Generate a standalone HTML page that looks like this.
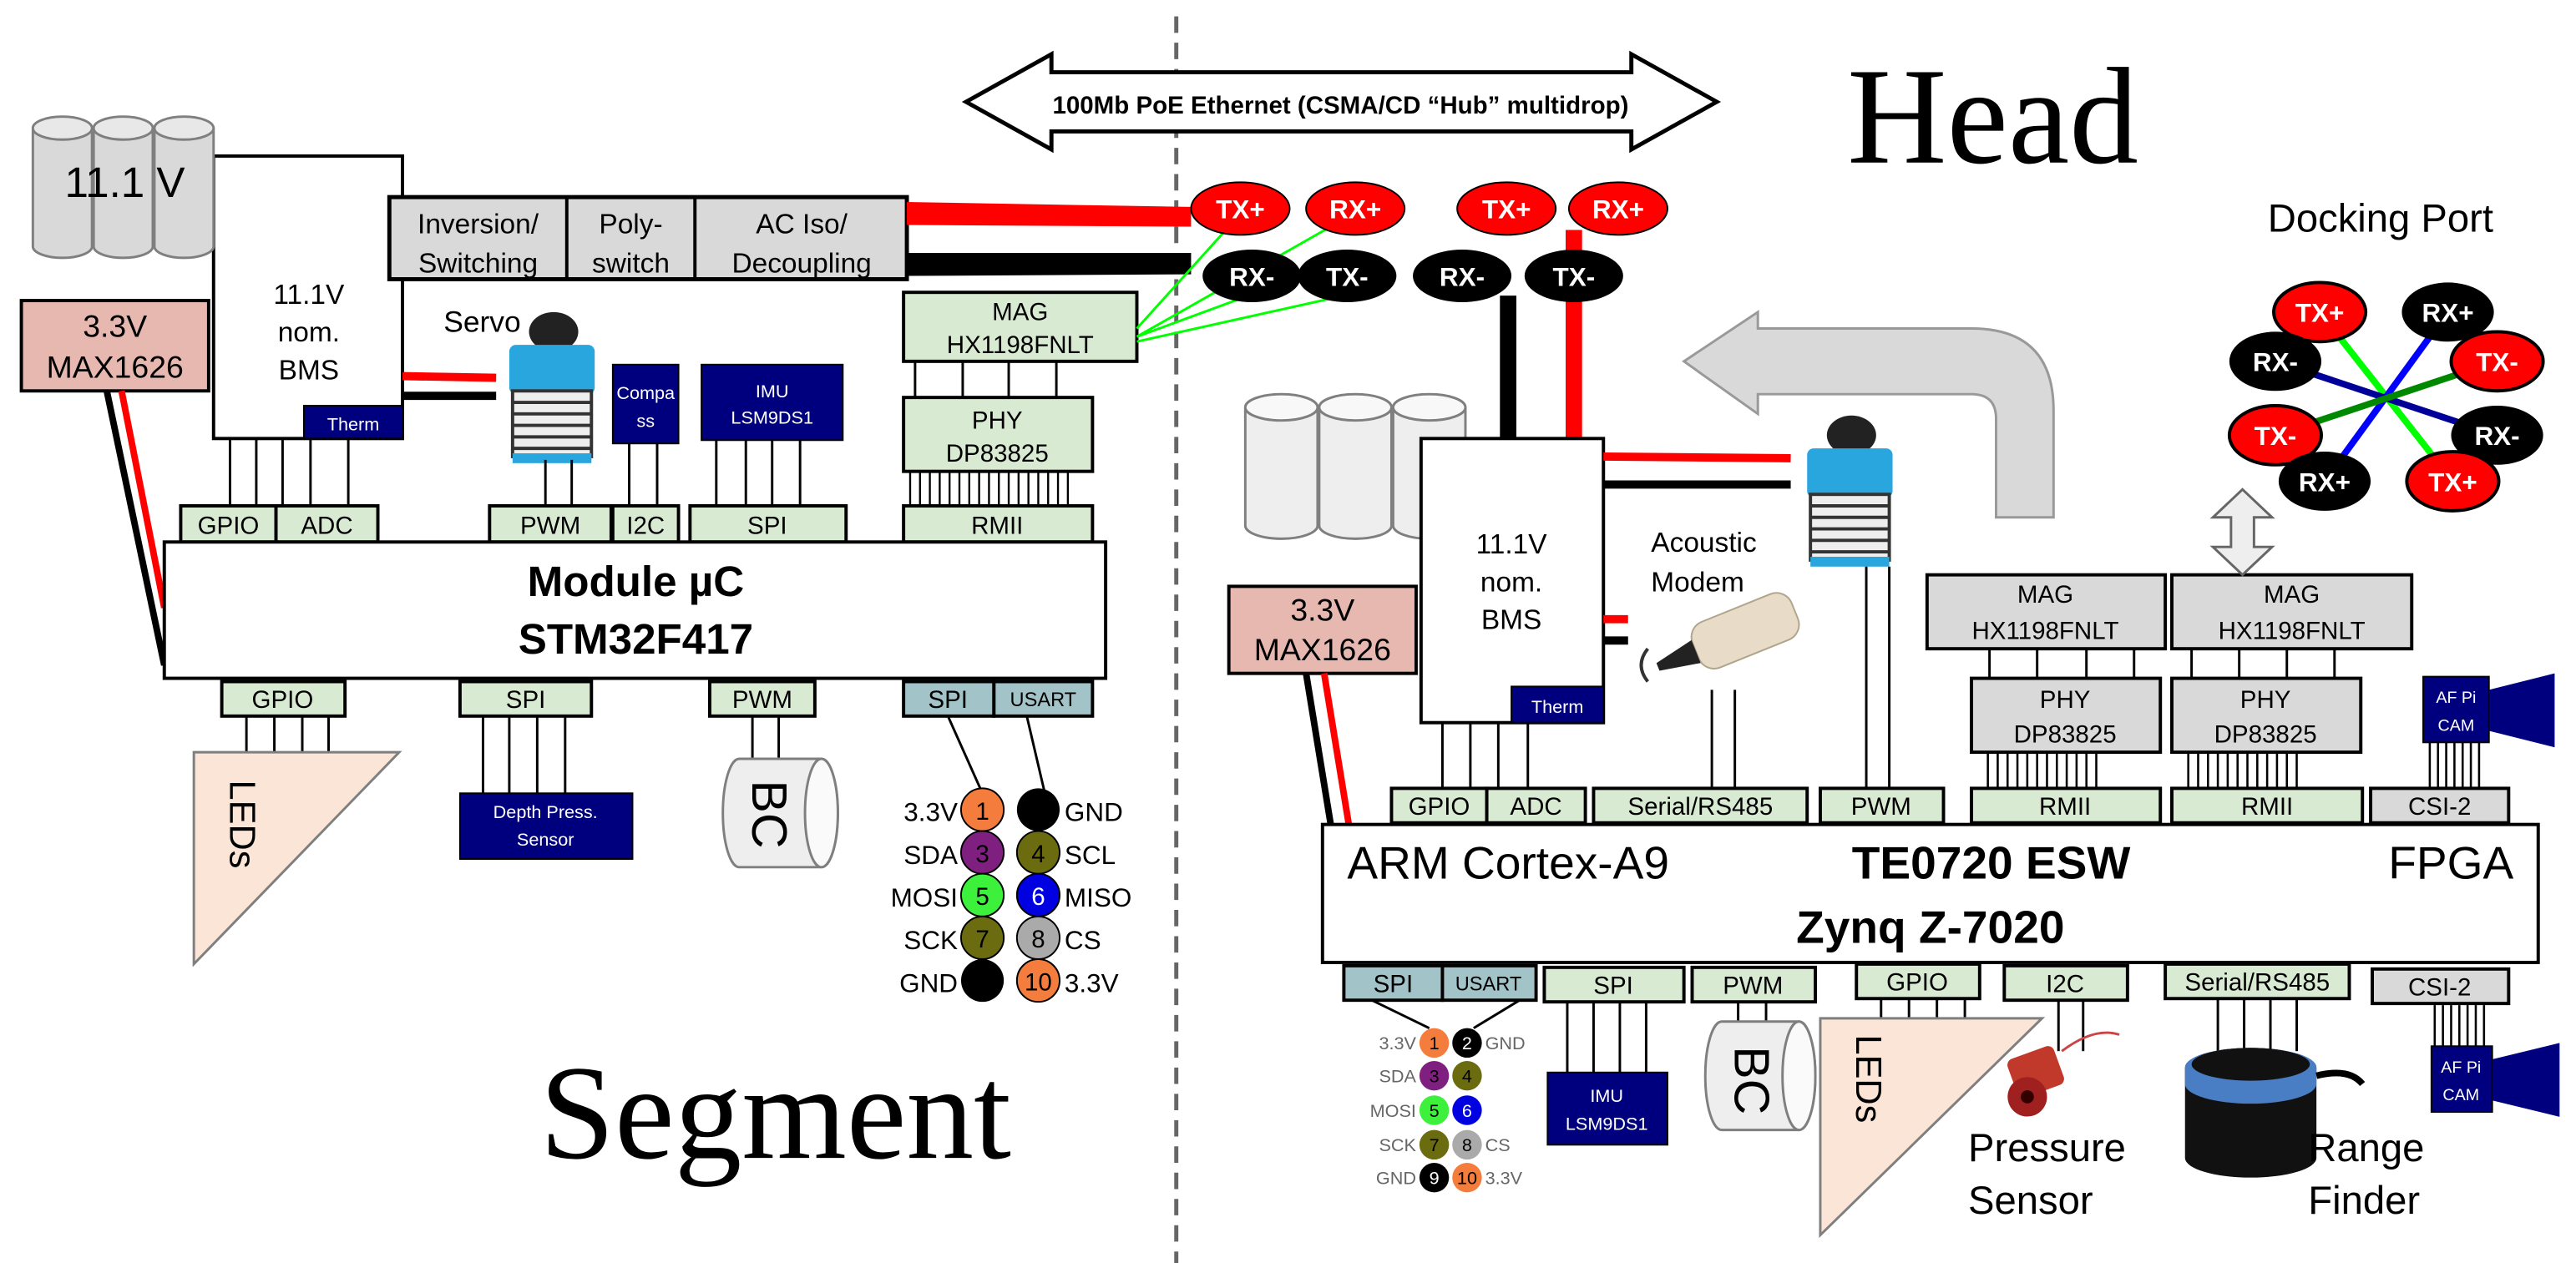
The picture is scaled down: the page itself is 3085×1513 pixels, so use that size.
<!DOCTYPE html>
<html><head><meta charset="utf-8"><style>
html,body{margin:0;padding:0;background:#fff}
svg{display:block}
text{font-family:"Liberation Sans",sans-serif}
</style></head><body>
<svg width="3085" height="1513" viewBox="0 0 1568 769" xmlns="http://www.w3.org/2000/svg">
<defs>
<g id="servo"><ellipse cx="35" cy="12" rx="15" ry="12" fill="#222"/><rect x="8" y="20" width="52" height="30" rx="4" fill="#2aa6df"/><g fill="#eee" stroke="#333" stroke-width="2"><rect x="10" y="48" width="48" height="40"/><line x1="10" y1="55" x2="58" y2="55"/><line x1="10" y1="62" x2="58" y2="62"/><line x1="10" y1="69" x2="58" y2="69"/><line x1="10" y1="76" x2="58" y2="76"/><line x1="10" y1="83" x2="58" y2="83"/></g><rect x="10" y="86" width="48" height="6" fill="#2aa6df"/></g>
</defs>
<rect width="1568" height="769" fill="#fff"/>
<line x1="716" y1="10" x2="716" y2="769" stroke="#666" stroke-width="2.5" stroke-dasharray="10,6"/>
<polygon points="588,62 640,33 640,44 993,44 993,33 1045,62 993,91 993,80 640,80 640,91" fill="#fff" stroke="#000" stroke-width="2.5"/>
<text x="816" y="69" font-size="15" font-weight="bold" text-anchor="middle">100Mb PoE Ethernet (CSMA/CD “Hub” multidrop)</text>
<text x="1213" y="99" font-size="84" text-anchor="middle" style="font-family:'Liberation Serif',serif">Head</text>
<text x="472" y="705" font-size="82" text-anchor="middle" style="font-family:'Liberation Serif',serif">Segment</text>

<!-- LEFT SIDE -->
<rect x="130" y="95" width="115" height="172" fill="#fff" stroke="#000" stroke-width="2"/>
<g><path d="M20,78 v72 a18,7 0 0 0 36,0 v-72" fill="#d9d9d9" stroke="#7f7f7f" stroke-width="1.5"/><ellipse cx="38" cy="78" rx="18" ry="7" fill="#e8e8e8" stroke="#7f7f7f" stroke-width="1.5"/>
<path d="M57,78 v72 a18,7 0 0 0 36,0 v-72" fill="#d9d9d9" stroke="#7f7f7f" stroke-width="1.5"/><ellipse cx="75" cy="78" rx="18" ry="7" fill="#e8e8e8" stroke="#7f7f7f" stroke-width="1.5"/>
<path d="M94,78 v72 a18,7 0 0 0 36,0 v-72" fill="#d9d9d9" stroke="#7f7f7f" stroke-width="1.5"/><ellipse cx="112" cy="78" rx="18" ry="7" fill="#e8e8e8" stroke="#7f7f7f" stroke-width="1.5"/></g>
<text x="76" y="120" font-size="26" text-anchor="middle">11.1 V</text>
<text x="188" y="185" font-size="17" text-anchor="middle">11.1V</text>
<text x="188" y="208" font-size="17" text-anchor="middle">nom.</text>
<text x="188" y="231" font-size="17" text-anchor="middle">BMS</text>
<rect x="185" y="247" width="60" height="20" fill="#00007f" stroke="#000"/>
<text x="215" y="262" font-size="11" fill="#fff" text-anchor="middle">Therm</text>
<rect x="13" y="183" width="114" height="55" fill="#e6b8af" stroke="#000" stroke-width="2"/>
<text x="70" y="205" font-size="19" text-anchor="middle">3.3V</text>
<text x="70" y="230" font-size="19" text-anchor="middle">MAX1626</text>
<line x1="65" y1="238" x2="100" y2="405" stroke="#000" stroke-width="4"/>
<line x1="74" y1="238" x2="100" y2="370" stroke="#f00" stroke-width="4"/>
<rect x="237" y="120" width="315" height="50" fill="#d9d9d9" stroke="#000" stroke-width="2.5"/>
<line x1="345" y1="120" x2="345" y2="170" stroke="#000" stroke-width="2"/>
<line x1="423" y1="120" x2="423" y2="170" stroke="#000" stroke-width="2"/>
<g font-size="17" text-anchor="middle"><text x="291" y="142">Inversion/</text><text x="291" y="166">Switching</text>
<text x="384" y="142">Poly-</text><text x="384" y="166">switch</text>
<text x="488" y="142">AC Iso/</text><text x="488" y="166">Decoupling</text></g>
<polygon points="552,123 725,126 725,138 552,137" fill="#f00"/>
<polygon points="552,154 725,154 725,167 552,168" fill="#000"/>
<text x="270" y="202" font-size="18">Servo</text>
<line x1="245" y1="229" x2="302" y2="230" stroke="#f00" stroke-width="5"/>
<line x1="245" y1="241" x2="302" y2="241" stroke="#000" stroke-width="5"/>
<use href="#servo" x="302" y="190"/>
<rect x="373" y="222" width="40" height="48" fill="#00007f" stroke="#000"/>
<text x="393" y="243" font-size="11" fill="#fff" text-anchor="middle">Compa</text>
<text x="393" y="260" font-size="11" fill="#fff" text-anchor="middle">ss</text>
<rect x="427" y="222" width="86" height="46" fill="#00007f" stroke="#000"/>
<text x="470" y="242" font-size="11" fill="#fff" text-anchor="middle">IMU</text>
<text x="470" y="258" font-size="11" fill="#fff" text-anchor="middle">LSM9DS1</text>
<g stroke="#000" stroke-width="1.5">
<line x1="140" y1="267" x2="140" y2="308"/><line x1="156" y1="267" x2="156" y2="308"/><line x1="172" y1="267" x2="172" y2="308"/><line x1="189" y1="267" x2="189" y2="308"/><line x1="212" y1="267" x2="212" y2="308"/>
<line x1="332" y1="280" x2="332" y2="308"/><line x1="348" y1="280" x2="348" y2="308"/>
<line x1="383" y1="270" x2="383" y2="308"/><line x1="400" y1="270" x2="400" y2="308"/>
<line x1="436" y1="268" x2="436" y2="308"/><line x1="454" y1="268" x2="454" y2="308"/><line x1="470" y1="268" x2="470" y2="308"/><line x1="487" y1="268" x2="487" y2="308"/>
<line x1="557" y1="220" x2="557" y2="242"/><line x1="586" y1="220" x2="586" y2="242"/><line x1="614" y1="220" x2="614" y2="242"/><line x1="643" y1="220" x2="643" y2="242"/>
</g>
<g stroke="#000" stroke-width="1.2"><path d="M554,287v21M560,287v21M566,287v21M572,287v21M578,287v21M584,287v21M590,287v21M596,287v21M602,287v21M608,287v21M614,287v21M620,287v21M626,287v21M632,287v21M638,287v21M644,287v21M650,287v21"/></g>
<rect x="550" y="178" width="142" height="42" fill="#d9ead3" stroke="#000" stroke-width="2"/>
<text x="621" y="195" font-size="15" text-anchor="middle">MAG</text><text x="621" y="215" font-size="15" text-anchor="middle">HX1198FNLT</text>
<rect x="550" y="242" width="115" height="45" fill="#d9ead3" stroke="#000" stroke-width="2"/>
<text x="607" y="261" font-size="15" text-anchor="middle">PHY</text><text x="607" y="281" font-size="15" text-anchor="middle">DP83825</text>
<g fill="#d9ead3" stroke="#000" stroke-width="2" >
<rect x="110" y="308" width="58" height="22"/><rect x="168" y="308" width="62" height="22"/>
<rect x="298" y="308" width="74" height="22"/><rect x="373" y="308" width="40" height="22"/>
<rect x="420" y="308" width="95" height="22"/><rect x="550" y="308" width="115" height="22"/>
</g>
<g font-size="15" text-anchor="middle"><text x="139" y="325">GPIO</text><text x="199" y="325">ADC</text><text x="335" y="325">PWM</text><text x="393" y="325">I2C</text><text x="467" y="325">SPI</text><text x="607" y="325">RMII</text></g>
<rect x="100" y="330" width="573" height="83" fill="#fff" stroke="#000" stroke-width="2"/>
<text x="387" y="363" font-size="26" font-weight="bold" text-anchor="middle">Module µC</text>
<text x="387" y="398" font-size="26" font-weight="bold" text-anchor="middle">STM32F417</text>
<g fill="#d9ead3" stroke="#000" stroke-width="2">
<rect x="135" y="415" width="75" height="21"/><rect x="280" y="415" width="80" height="21"/><rect x="432" y="415" width="64" height="21"/></g>
<rect x="550" y="415" width="55" height="21" fill="#a2c4c9" stroke="#000" stroke-width="2"/>
<rect x="605" y="415" width="60" height="21" fill="#a2c4c9" stroke="#000" stroke-width="2"/>
<g font-size="15" text-anchor="middle"><text x="172" y="431">GPIO</text><text x="320" y="431">SPI</text><text x="464" y="431">PWM</text><text x="577" y="431">SPI</text><text x="635" y="430" font-size="12">USART</text></g>
<g stroke="#000" stroke-width="1.5">
<line x1="150" y1="436" x2="150" y2="458"/><line x1="167" y1="436" x2="167" y2="458"/><line x1="184" y1="436" x2="184" y2="458"/><line x1="200" y1="436" x2="200" y2="458"/>
<line x1="294" y1="436" x2="294" y2="483"/><line x1="310" y1="436" x2="310" y2="483"/><line x1="327" y1="436" x2="327" y2="483"/><line x1="344" y1="436" x2="344" y2="483"/>
<line x1="458" y1="436" x2="458" y2="465"/><line x1="474" y1="436" x2="474" y2="465"/>
<line x1="577" y1="436" x2="598" y2="483"/><line x1="625" y1="436" x2="636" y2="483"/></g>
<polygon points="118,458 243,458 118,587" fill="#fbe5d6" stroke="#7f7f7f" stroke-width="1.5"/>
<text transform="translate(140,475) rotate(90)" font-size="22">LEDs</text>
<rect x="280" y="483" width="105" height="40" fill="#00007f" stroke="#000"/>
<text x="332" y="498" font-size="11" fill="#fff" text-anchor="middle">Depth Press.</text>
<text x="332" y="515" font-size="11" fill="#fff" text-anchor="middle">Sensor</text>
<path d="M450,462 h50 a10,33 0 0 1 0,66 h-50 a10,33 0 0 1 0,-66z" fill="#eee" stroke="#7f7f7f" stroke-width="1.5"/>
<ellipse cx="500" cy="495" rx="10" ry="33" fill="#fafafa" stroke="#7f7f7f" stroke-width="1.5"/>
<text transform="translate(458,475) rotate(90)" font-size="30">BC</text>
<g font-size="16">
<circle cx="598" cy="493" r="13" fill="#f47c3c" stroke="#000"/><circle cx="632" cy="493" r="13" fill="#000"/>
<circle cx="598" cy="519" r="13" fill="#7f1f7f" stroke="#000"/><circle cx="632" cy="519" r="13" fill="#6b6b10" stroke="#000"/>
<circle cx="598" cy="545" r="13" fill="#3cf03c" stroke="#000"/><circle cx="632" cy="545" r="13" fill="#0000e0" stroke="#000"/>
<circle cx="598" cy="571" r="13" fill="#6b6b10" stroke="#000"/><circle cx="632" cy="571" r="13" fill="#aaa" stroke="#000"/>
<circle cx="598" cy="597" r="13" fill="#000"/><circle cx="632" cy="597" r="13" fill="#f47c3c" stroke="#000"/>
<g text-anchor="middle" font-size="15"><text x="598" y="499">1</text><text x="598" y="525">3</text><text x="632" y="525">4</text><text x="598" y="551">5</text><text x="632" y="551" fill="#fff">6</text><text x="598" y="577">7</text><text x="632" y="577">8</text><text x="632" y="603">10</text></g>
<g text-anchor="end"><text x="583" y="500">3.3V</text><text x="583" y="526">SDA</text><text x="583" y="552">MOSI</text><text x="583" y="578">SCK</text><text x="583" y="604">GND</text></g>
<text x="648" y="500">GND</text><text x="648" y="526">SCL</text><text x="648" y="552">MISO</text><text x="648" y="578">CS</text><text x="648" y="604">3.3V</text></g>

<g stroke="#0f0" stroke-width="1.5"><line x1="692" y1="200" x2="748" y2="138"/><line x1="692" y1="205" x2="810" y2="138"/><line x1="692" y1="205" x2="760" y2="180"/><line x1="692" y1="208" x2="818" y2="180"/></g>
<g font-size="16" font-weight="bold" text-anchor="middle">
<ellipse cx="755" cy="127" rx="30" ry="16" fill="#f00" stroke="#000"/><text x="755" y="133" fill="#fff">TX+</text>
<ellipse cx="825" cy="127" rx="30" ry="16" fill="#f00" stroke="#000"/><text x="825" y="133" fill="#fff">RX+</text>
<ellipse cx="762" cy="168" rx="30" ry="16" fill="#000"/><text x="762" y="174" fill="#fff">RX-</text>
<ellipse cx="820" cy="168" rx="30" ry="16" fill="#000"/><text x="820" y="174" fill="#fff">TX-</text>
</g>
<!-- RIGHT SIDE -->
<rect x="913" y="180" width="10" height="88" fill="#000"/>
<rect x="953" y="140" width="10" height="128" fill="#f00"/>
<g font-size="16" font-weight="bold" text-anchor="middle">
<ellipse cx="917" cy="127" rx="30" ry="16" fill="#f00" stroke="#000"/><text x="917" y="133" fill="#fff">TX+</text>
<ellipse cx="985" cy="127" rx="30" ry="16" fill="#f00" stroke="#000"/><text x="985" y="133" fill="#fff">RX+</text>
<ellipse cx="890" cy="168" rx="30" ry="16" fill="#000"/><text x="890" y="174" fill="#fff">RX-</text>
<ellipse cx="958" cy="168" rx="30" ry="16" fill="#000"/><text x="958" y="174" fill="#fff">TX-</text>
</g>
<path d="M1025,220 L1070,190 L1070,200 L1200,200 Q1250,200 1250,250 L1250,315 L1215,315 L1215,255 Q1215,240 1200,240 L1070,240 L1070,252 Z" fill="#d9d9d9" stroke="#999" stroke-width="1.5"/>
<g><path d="M758,248 v72 a22,8 0 0 0 44,0 v-72" fill="#eee" stroke="#7f7f7f" stroke-width="1.5"/><ellipse cx="780" cy="248" rx="22" ry="8" fill="#f8f8f8" stroke="#7f7f7f" stroke-width="1.5"/>
<path d="M803,248 v72 a22,8 0 0 0 44,0 v-72" fill="#eee" stroke="#7f7f7f" stroke-width="1.5"/><ellipse cx="825" cy="248" rx="22" ry="8" fill="#f8f8f8" stroke="#7f7f7f" stroke-width="1.5"/>
<path d="M848,248 v72 a22,8 0 0 0 44,0 v-72" fill="#eee" stroke="#7f7f7f" stroke-width="1.5"/><ellipse cx="870" cy="248" rx="22" ry="8" fill="#f8f8f8" stroke="#7f7f7f" stroke-width="1.5"/></g>
<rect x="865" y="267" width="111" height="173" fill="#fff" stroke="#000" stroke-width="2"/>
<text x="920" y="337" font-size="17" text-anchor="middle">11.1V</text>
<text x="920" y="360" font-size="17" text-anchor="middle">nom.</text>
<text x="920" y="383" font-size="17" text-anchor="middle">BMS</text>
<rect x="920" y="418" width="56" height="22" fill="#00007f" stroke="#000"/>
<text x="948" y="434" font-size="11" fill="#fff" text-anchor="middle">Therm</text>
<line x1="976" y1="278" x2="1090" y2="279" stroke="#f00" stroke-width="5"/>
<line x1="976" y1="295" x2="1090" y2="295" stroke="#000" stroke-width="5"/>
<line x1="976" y1="377" x2="991" y2="377" stroke="#f00" stroke-width="5"/>
<line x1="976" y1="390" x2="991" y2="390" stroke="#000" stroke-width="5"/>
<use href="#servo" x="1092" y="253"/>
<text x="1005" y="336" font-size="17">Acoustic</text>
<text x="1005" y="360" font-size="17">Modem</text>
<g transform="rotate(-22 1060 385)"><rect x="1030" y="370" width="65" height="30" rx="10" fill="#e8dcc8" stroke="#b0a48c"/><polygon points="1030,378 1005,383 1005,388 1030,393" fill="#222"/></g>
<path d="M1003,395 q-8,10 0,20" stroke="#333" stroke-width="2" fill="none"/>
<rect x="748" y="357" width="114" height="53" fill="#e6b8af" stroke="#000" stroke-width="2"/>
<text x="805" y="378" font-size="19" text-anchor="middle">3.3V</text>
<text x="805" y="402" font-size="19" text-anchor="middle">MAX1626</text>
<line x1="795" y1="410" x2="810" y2="502" stroke="#000" stroke-width="4"/>
<line x1="806" y1="410" x2="821" y2="502" stroke="#f00" stroke-width="4"/>
<g stroke="#000" stroke-width="1.5">
<line x1="878" y1="440" x2="878" y2="480"/><line x1="895" y1="440" x2="895" y2="480"/><line x1="912" y1="440" x2="912" y2="480"/><line x1="930" y1="440" x2="930" y2="480"/>
<line x1="1042" y1="420" x2="1042" y2="480"/><line x1="1056" y1="420" x2="1056" y2="480"/>
<line x1="1136" y1="345" x2="1136" y2="480"/><line x1="1150" y1="345" x2="1150" y2="480"/>
<line x1="1211" y1="395" x2="1211" y2="413"/><line x1="1240" y1="395" x2="1240" y2="413"/><line x1="1270" y1="395" x2="1270" y2="413"/><line x1="1299" y1="395" x2="1299" y2="413"/>
<line x1="1334" y1="395" x2="1334" y2="413"/><line x1="1363" y1="395" x2="1363" y2="413"/><line x1="1392" y1="395" x2="1392" y2="413"/><line x1="1421" y1="395" x2="1421" y2="413"/>
</g>
<g stroke="#000" stroke-width="1.3">
<path d="M1210,458v22M1216,458v22M1222,458v22M1228,458v22M1234,458v22M1240,458v22M1246,458v22M1252,458v22M1258,458v22M1264,458v22M1270,458v22M1276,458v22"/>
<path d="M1332,458v22M1338,458v22M1344,458v22M1350,458v22M1356,458v22M1362,458v22M1368,458v22M1374,458v22M1380,458v22M1386,458v22M1392,458v22M1398,458v22"/>
<path d="M1479,452v28M1484,452v28M1489,452v28M1494,452v28M1499,452v28M1504,452v28M1509,452v28"/>
<path d="M1482,612v25M1487,612v25M1492,612v25M1497,612v25M1502,612v25M1507,612v25M1512,612v25"/>
</g>
<g fill="#d9d9d9" stroke="#000" stroke-width="2">
<rect x="1173" y="350" width="145" height="45"/><rect x="1322" y="350" width="146" height="45"/>
<rect x="1200" y="413" width="115" height="45"/><rect x="1322" y="413" width="115" height="45"/></g>
<g font-size="15" text-anchor="middle"><text x="1245" y="367">MAG</text><text x="1245" y="389">HX1198FNLT</text>
<text x="1395" y="367">MAG</text><text x="1395" y="389">HX1198FNLT</text>
<text x="1257" y="431">PHY</text><text x="1257" y="452">DP83825</text>
<text x="1379" y="431">PHY</text><text x="1379" y="452">DP83825</text></g>
<polygon points="1365,298 1383,315 1372,315 1372,333 1383,333 1365,350 1347,333 1358,333 1358,315 1347,315" fill="#eee" stroke="#666" stroke-width="1.5"/>
<rect x="1475" y="412" width="40" height="40" fill="#00007f" stroke="#000"/>
<text x="1495" y="428" font-size="10" fill="#fff" text-anchor="middle">AF Pi</text><text x="1495" y="445" font-size="10" fill="#fff" text-anchor="middle">CAM</text>
<polygon points="1515,420 1555,410 1555,455 1515,445" fill="#00007f"/>
<rect x="1480" y="637" width="37" height="40" fill="#00007f" stroke="#000"/>
<text x="1498" y="653" font-size="10" fill="#fff" text-anchor="middle">AF Pi</text><text x="1498" y="670" font-size="10" fill="#fff" text-anchor="middle">CAM</text>
<polygon points="1517,645 1558,635 1558,680 1517,670" fill="#00007f"/>
<g fill="#d9ead3" stroke="#000" stroke-width="2">
<rect x="847" y="480" width="58" height="21"/><rect x="905" y="480" width="60" height="21"/><rect x="970" y="480" width="130" height="21"/><rect x="1108" y="480" width="75" height="21"/><rect x="1200" y="480" width="115" height="21"/><rect x="1322" y="480" width="116" height="21"/></g>
<rect x="1443" y="480" width="84" height="21" fill="#d9d9d9" stroke="#000" stroke-width="2"/>
<g font-size="15" text-anchor="middle"><text x="876" y="496">GPIO</text><text x="935" y="496">ADC</text><text x="1035" y="496">Serial/RS485</text><text x="1145" y="496">PWM</text><text x="1257" y="496">RMII</text><text x="1380" y="496">RMII</text><text x="1485" y="496">CSI-2</text></g>
<rect x="805" y="502" width="740" height="84" fill="#fff" stroke="#000" stroke-width="2"/>
<text x="820" y="535" font-size="28">ARM Cortex-A9</text>
<text x="1212" y="535" font-size="28" font-weight="bold" text-anchor="middle">TE0720 ESW</text>
<text x="1530" y="535" font-size="28" text-anchor="end">FPGA</text>
<text x="1175" y="574" font-size="28" font-weight="bold" text-anchor="middle">Zynq Z-7020</text>
<rect x="818" y="588" width="60" height="21" fill="#a2c4c9" stroke="#000" stroke-width="2"/><rect x="878" y="588" width="57" height="21" fill="#a2c4c9" stroke="#000" stroke-width="2"/>
<g fill="#d9ead3" stroke="#000" stroke-width="2">
<rect x="940" y="589" width="85" height="21"/><rect x="1030" y="589" width="75" height="21"/><rect x="1130" y="587" width="75" height="21"/><rect x="1220" y="588" width="75" height="21"/><rect x="1318" y="587" width="112" height="21"/></g>
<rect x="1444" y="590" width="83" height="21" fill="#d9d9d9" stroke="#000" stroke-width="2"/>
<g font-size="15" text-anchor="middle"><text x="848" y="604">SPI</text><text x="906" y="603" font-size="12">USART</text><text x="982" y="605">SPI</text><text x="1067" y="605">PWM</text><text x="1167" y="603">GPIO</text><text x="1257" y="604">I2C</text><text x="1374" y="603">Serial/RS485</text><text x="1485" y="606">CSI-2</text></g>
<g stroke="#000" stroke-width="1.5">
<line x1="835" y1="609" x2="870" y2="626"/><line x1="925" y1="609" x2="897" y2="626"/>
<line x1="954" y1="610" x2="954" y2="653"/><line x1="970" y1="610" x2="970" y2="653"/><line x1="986" y1="610" x2="986" y2="653"/><line x1="1002" y1="610" x2="1002" y2="653"/>
<line x1="1058" y1="610" x2="1058" y2="622"/><line x1="1075" y1="610" x2="1075" y2="622"/>
<line x1="1145" y1="608" x2="1145" y2="620"/><line x1="1162" y1="608" x2="1162" y2="620"/><line x1="1179" y1="608" x2="1179" y2="620"/><line x1="1196" y1="608" x2="1196" y2="620"/>
<line x1="1253" y1="609" x2="1253" y2="640"/><line x1="1268" y1="609" x2="1268" y2="640"/>
<line x1="1350" y1="608" x2="1350" y2="640"/><line x1="1366" y1="608" x2="1366" y2="640"/><line x1="1382" y1="608" x2="1382" y2="640"/><line x1="1398" y1="608" x2="1398" y2="640"/></g>
<g font-size="11">
<circle cx="873" cy="635" r="9" fill="#f47c3c"/><circle cx="893" cy="635" r="9" fill="#000"/>
<circle cx="873" cy="655" r="9" fill="#7f1f7f"/><circle cx="893" cy="655" r="9" fill="#6b6b10"/>
<circle cx="873" cy="676" r="9" fill="#3cf03c"/><circle cx="893" cy="676" r="9" fill="#0000e0"/>
<circle cx="873" cy="697" r="9" fill="#6b6b10"/><circle cx="893" cy="697" r="9" fill="#aaa"/>
<circle cx="873" cy="717" r="9" fill="#000"/><circle cx="893" cy="717" r="9" fill="#f47c3c"/>
<g text-anchor="middle"><text x="873" y="639">1</text><text x="893" y="639" fill="#fff">2</text><text x="873" y="659">3</text><text x="893" y="659">4</text><text x="873" y="680">5</text><text x="893" y="680" fill="#fff">6</text><text x="873" y="701">7</text><text x="893" y="701">8</text><text x="873" y="721" fill="#fff">9</text><text x="893" y="721">10</text></g>
<g text-anchor="end" fill="#666"><text x="862" y="639">3.3V</text><text x="862" y="659">SDA</text><text x="862" y="680">MOSI</text><text x="862" y="701">SCK</text><text x="862" y="721">GND</text></g>
<g fill="#666"><text x="904" y="639">GND</text><text x="904" y="701">CS</text><text x="904" y="721">3.3V</text></g></g>
<rect x="942" y="653" width="73" height="44" fill="#00007f" stroke="#000"/>
<text x="978" y="671" font-size="11" fill="#fff" text-anchor="middle">IMU</text><text x="978" y="688" font-size="11" fill="#fff" text-anchor="middle">LSM9DS1</text>
<path d="M1048,622 h47 a10,33 0 0 1 0,66 h-47 a10,33 0 0 1 0,-66z" fill="#eee" stroke="#7f7f7f" stroke-width="1.5"/>
<ellipse cx="1095" cy="655" rx="10" ry="33" fill="#fafafa" stroke="#7f7f7f" stroke-width="1.5"/>
<text transform="translate(1056,637) rotate(90)" font-size="30">BC</text>
<polygon points="1108,620 1243,620 1108,752" fill="#fbe5d6" stroke="#7f7f7f" stroke-width="1.5"/>
<text transform="translate(1130,630) rotate(90)" font-size="22">LEDs</text>
<g transform="rotate(-20 1240 655)"><rect x="1225" y="640" width="30" height="25" rx="4" fill="#c0392b"/><circle cx="1230" cy="665" r="12" fill="#a02020"/><circle cx="1230" cy="665" r="4" fill="#300"/></g>
<path d="M1255,640 q20,-15 35,-10" stroke="#c44" stroke-width="1.5" fill="none"/>
<text x="1198" y="707" font-size="24">Pressure</text><text x="1198" y="739" font-size="24">Sensor</text>
<path d="M1330,650 a40,12 0 0 1 80,0 v55 a40,12 0 0 1 -80,0z" fill="#111"/>
<path d="M1330,650 a40,12 0 0 1 80,0 v10 a40,12 0 0 1 -80,0z" fill="#4a7ec4"/>
<ellipse cx="1370" cy="648" rx="36" ry="10" fill="#111"/>
<path d="M1410,655 q20,-5 28,5" stroke="#000" stroke-width="4" fill="none"/>
<text x="1405" y="707" font-size="24">Range</text><text x="1405" y="739" font-size="24">Finder</text>
<text x="1449" y="141" font-size="24" text-anchor="middle">Docking Port</text>
<g stroke-width="4">
<line x1="1412" y1="190" x2="1493" y2="293" stroke="#0f0"/>
<line x1="1490" y1="190" x2="1415" y2="293" stroke="#00f"/>
<line x1="1385" y1="220" x2="1520" y2="265" stroke="#009"/>
<line x1="1520" y1="220" x2="1385" y2="265" stroke="#080"/></g>
<g font-size="16" font-weight="bold" text-anchor="middle" fill="#fff">
<ellipse cx="1412" cy="190" rx="28" ry="18" fill="#f00" stroke="#000" stroke-width="2"/><text x="1412" y="196">TX+</text>
<ellipse cx="1490" cy="190" rx="28" ry="18" fill="#000"/><text x="1490" y="196">RX+</text>
<ellipse cx="1385" cy="220" rx="28" ry="18" fill="#000"/><text x="1385" y="226">RX-</text>
<ellipse cx="1520" cy="220" rx="28" ry="18" fill="#f00" stroke="#000" stroke-width="2"/><text x="1520" y="226">TX-</text>
<ellipse cx="1385" cy="265" rx="28" ry="18" fill="#f00" stroke="#000" stroke-width="2"/><text x="1385" y="271">TX-</text>
<ellipse cx="1520" cy="265" rx="28" ry="18" fill="#000"/><text x="1520" y="271">RX-</text>
<ellipse cx="1415" cy="293" rx="28" ry="18" fill="#000"/><text x="1415" y="299">RX+</text>
<ellipse cx="1493" cy="293" rx="28" ry="18" fill="#f00" stroke="#000" stroke-width="2"/><text x="1493" y="299">TX+</text>
</g>
</svg>
</body></html>
